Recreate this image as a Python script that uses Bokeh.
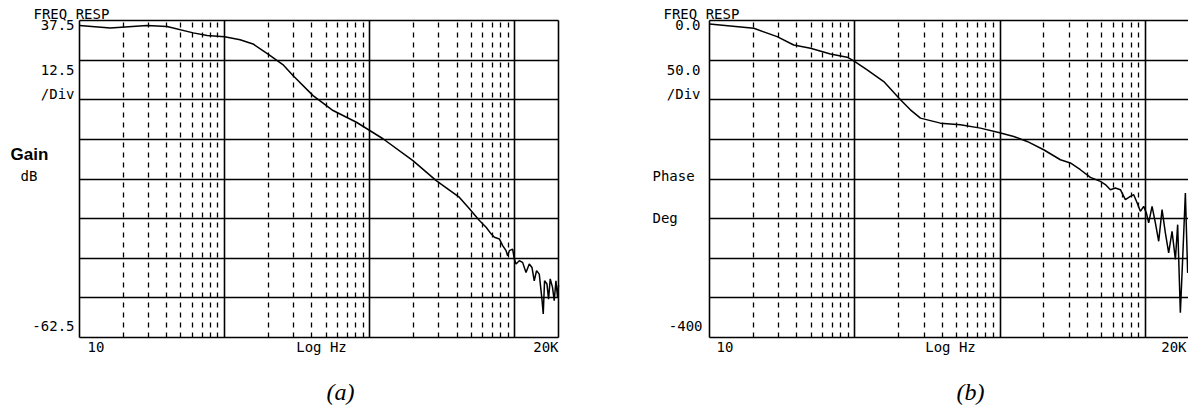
import math
from bokeh.plotting import figure
from bokeh.models import Range1d, FixedTicker, Grid, Label
from bokeh.layouts import row
from bokeh.embed import file_html
from bokeh.resources import INLINE

# ---------------- data ----------------
gain_freq = [10, 16.3, 29.2, 40.1, 60.8, 75.8, 100, 127.8, 157, 205, 252, 297, 407, 559,
             810, 1000, 1234, 1985, 2873, 4156, 4867, 5702, 6340, 6862, 7230, 7825, 8248,
             8700, 8924, 9167, 9658, 9922, 10190, 10737, 11314, 11940, 12580, 13130, 13610,
             14120, 14740, 15380, 15700, 16030, 16650, 17080, 17540, 18190, 18690, 19200,
             19700, 20000]
gain_db = [35.9, 35.1, 35.9, 35.6, 33.6, 32.8, 32.4, 31.4, 30.1, 26.5, 23.6, 20.1, 13.8, 9.1,
           5.4, 2.8, 0.2, -6.7, -13.0, -18.3, -21.9, -25.6, -27.7, -29.8, -30.9, -31.4, -33.5,
           -35.1, -36.7, -35.1, -34.6, -37.7, -39.3, -38.3, -38.8, -42.0, -39.3, -40.4, -44.6,
           -41.4, -42.5, -50.4, -55.1, -44.6, -45.6, -50.4, -44.0, -46.7, -50.9, -44.6,
           -49.8, -46.0]

phase_freq = [10, 20.2, 29.2, 38.0, 49.6, 68.0, 88.7, 98.4, 121.7, 158.4, 206.3, 241.6, 283.3,
              388.9, 534, 733, 980, 1243, 1537, 1998, 2604, 3051, 3575, 4190, 4909, 5314, 5752,
              6228, 6740, 7295, 7897, 8324, 8784, 9254, 9750, 10176, 10553, 11138, 11737,
              12370, 13050, 13750, 14490, 15290, 16120, 16710, 17440, 18200, 18880, 19580,
              20000]
phase_deg = [-4.4, -9.8, -20.4, -30.9, -35.0, -42.2, -46.3, -51.0, -62.3, -77.1, -100.1,
             -112.7, -123.2, -129.5, -131.6, -135.8, -141.3, -146.3, -152.6, -163.1, -175.7,
             -179.8, -188.3, -198.0, -203.0, -207.0, -213.5, -211.3, -213.5, -226.0, -222.0,
             -219.8, -230.0, -240.8, -234.5, -242.8, -255.4, -234.5, -255.4, -278.6, -238.7,
             -268.0, -293.2, -266.0, -301.6, -257.6, -368.8, -289.0, -217.6, -318.4, -300.0]

f_min, f_max = 10, 20000
x_major = [10, 100, 1000, 10000, 20000]
x_minor = [20, 30, 40, 50, 60, 70, 80, 90,
           200, 300, 400, 500, 600, 700, 800, 900,
           2000, 3000, 4000, 5000, 6000, 7000, 8000, 9000]
gain_range = (-62.5, 37.5)
gain_lines = [37.5, 25, 12.5, 0, -12.5, -25, -37.5, -50, -62.5]
phase_range = (-400, 0)
phase_lines = [0, -50, -100, -150, -200, -250, -300, -350, -400]

MONO = "DejaVu Sans Mono"
FS = "14px"
H = 406
TOP, FH = 20, 317  # plot box top (px) and height (px)


class Panel:
    def __init__(self, width, page_x0, box_l, box_r, rng, ylines):
        self.page_x0 = page_x0
        self.box_l = box_l - page_x0
        self.lo, self.hi = rng
        self.k = (box_r - box_l) / math.log10(f_max / f_min)
        self.ppu = FH / (self.hi - self.lo)
        x0 = self.xd(page_x0)
        x1 = self.xd(page_x0 + width)
        y1 = self.yd(0)
        y0 = self.yd(H)
        p = figure(width=width, height=H, x_axis_type="log",
                   x_range=Range1d(x0, x1), y_range=Range1d(y0, y1),
                   x_axis_location=None, y_axis_location=None,
                   toolbar_location=None, output_backend="svg", min_border=0)
        p.grid.visible = False
        p.outline_line_color = None
        p.background_fill_color = "white"
        p.border_fill_color = "white"
        xg = Grid(dimension=0, ticker=FixedTicker(ticks=x_major, minor_ticks=x_minor),
                  cross_bounds=(self.lo, self.hi),
                  grid_line_color="black", grid_line_width=1.6,
                  minor_grid_line_color="black", minor_grid_line_width=1.3,
                  minor_grid_line_dash="5 5")
        yg = Grid(dimension=1, ticker=FixedTicker(ticks=ylines),
                  cross_bounds=(f_min, f_max),
                  grid_line_color="black", grid_line_width=1.4)
        p.add_layout(xg, "center")
        p.add_layout(yg, "center")
        self.p = p

    def xd(self, page_px):
        return f_min * 10 ** ((page_px - self.page_x0 - self.box_l) / self.k)

    def yd(self, py):
        return self.hi - (py - TOP) / self.ppu

    def label(self, px, py, text, align="left", font=MONO, size=FS, style="normal"):
        self.p.add_layout(Label(x=self.xd(px), y=self.yd(py), text=text,
                                text_align=align, text_baseline="middle",
                                text_font=font, text_font_size=size,
                                text_font_style=style, text_color="black"))


# ---------------- panel (a): gain ----------------
A = Panel(600, 0, 79, 558, gain_range, gain_lines)
A.p.line(gain_freq, gain_db, line_color="black", line_width=1.5)
A.label(33, 13, "FREQ RESP")
A.label(74, 24, "37.5", align="right")
A.label(74, 69, "12.5", align="right")
A.label(74, 93, "/Div", align="right")
A.label(10, 154, "Gain", font="Liberation Sans", size="17px", style="bold")
A.label(20, 175, "dB")
A.label(74, 325, "-62.5", align="right")
A.label(87, 346, "10")
A.label(321, 346, "Log Hz", align="center")
A.label(558, 346, "20K", align="right")
A.label(340, 391, "(a)", align="center", font="Liberation Serif", size="24px", style="italic")

# ---------------- panel (b): phase ----------------
B = Panel(588, 600, 709, 1188.5, phase_range, phase_lines)
B.p.line(phase_freq, phase_deg, line_color="black", line_width=1.5)
B.label(663, 13, "FREQ RESP")
B.label(700, 24, "0.0", align="right")
B.label(700, 69, "50.0", align="right")
B.label(700, 93, "/Div", align="right")
B.label(652, 175, "Phase")
B.label(652, 217, "Deg")
B.label(702, 325, "-400", align="right")
B.label(716, 346, "10")
B.label(950, 346, "Log Hz", align="center")
B.label(1186, 346, "20K", align="right")
B.label(970, 391, "(b)", align="center", font="Liberation Serif", size="24px", style="italic")

layout = row(A.p, B.p)
open("out.html", "w").write(file_html(layout, INLINE))
